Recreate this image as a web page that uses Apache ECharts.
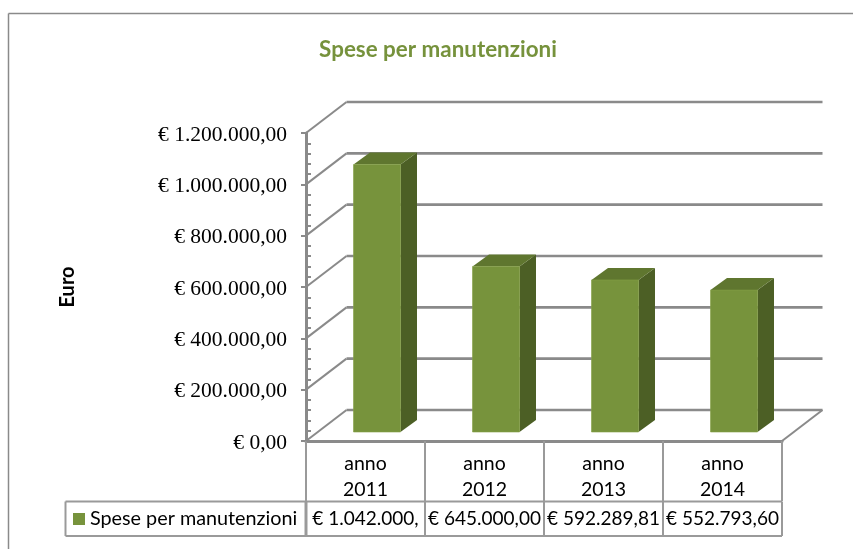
<!DOCTYPE html>
<html><head><meta charset="utf-8">
<style>html,body{margin:0;padding:0;background:#fff}#c{width:853px;height:549px}</style>
<script src="https://cdn.jsdelivr.net/npm/echarts@6/dist/echarts.min.js"></script>
</head><body><div id="c"></div>
<script>
const titleText = 'Spese per manutenzioni';
const yName = 'Euro';
const seriesName = 'Spese per manutenzioni';
const categories = ['anno\n2011', 'anno\n2012', 'anno\n2013', 'anno\n2014'];
const values = [1042000, 645000, 592289.81, 552793.60];
const tableLabels = ['€ 1.042.000,', '€ 645.000,00', '€ 592.289,81', '€ 552.793,60'];
const yTicks = [0, 200000, 400000, 600000, 800000, 1000000, 1200000];
const yMax = 1200000, yStep = 200000;

const GREY = '#8a8a8a', TABLE = '#9a9a9a', FRONT = '#77933C', SIDE = '#4C5F25', TOP = '#5F762F';
const BACK = [40.5, -31];          // floor depth offset of the back wall
const BAR = {x: 11.5, y: -9, w: 47, dx: 16.5, dy: -12};

function line(a, b, w, c) {
  return {type: 'line', shape: {x1: a[0], y1: a[1], x2: b[0], y2: b[1]}, style: {stroke: c, lineWidth: w}};
}
function poly(points, fill) {
  return {type: 'polygon', shape: {points}, style: {fill, stroke: null}};
}
function fmtY(v) {
  const s = String(v).replace(/\B(?=(\d{3})+$)/g, '.');
  return '€ ' + s + ',00';
}

function renderWalls(params, api) {
  const v = api.value(0);
  const p = api.coord([0, v]);
  const halfCat = api.size([1, 0])[0] / 2;
  const x0 = p[0] - halfCat;
  const x1 = x0 + halfCat * 2 * categories.length;
  const y = p[1];
  const back0 = [x0 + BACK[0], y + BACK[1]];
  const back1 = [x1 + BACK[0], y + BACK[1]];
  const children = [line([x0, y], back0, 2, GREY), line(back0, back1, 2.6, GREY)];
  if (v === 0) children.push(line(back1, [x1, y], 2, GREY));
  return {type: 'group', children};
}

function renderBar(params, api) {
  const base = api.coord([api.value(0), 0]);
  const top = api.coord([api.value(0), api.value(1)]);
  const xl = base[0] - BAR.w / 2 + BAR.x, xr = xl + BAR.w;
  const yb = base[1] + BAR.y, yt = top[1] + BAR.y;
  const d = [BAR.dx, BAR.dy];
  return {type: 'group', children: [
    poly([[xr, yt], [xr + d[0], yt + d[1]], [xr + d[0], yb + d[1]], [xr, yb]], SIDE),
    poly([[xl, yt], [xl + d[0], yt + d[1]], [xr + d[0], yt + d[1]], [xr, yt]], TOP),
    {type: 'rect', shape: {x: xl, y: yt, width: BAR.w, height: yb - yt}, style: {fill: FRONT, stroke: '#84a044', lineWidth: 0.6}}
  ]};
}

function renderTable(params, api) {
  const i = api.value(0);
  const c = api.coord([i, 0]);
  const w = api.size([1, 0])[0];
  const xl = c[0] - w / 2, xr = c[0] + w / 2;
  const yA = c[1] + 60.5, yB = c[1] + 95;
  const children = [
    line([xr, yA], [xr, yB], 2, TABLE),
    line([xl, yA], [xr, yA], 2, TABLE),
    line([xl, yB], [xr, yB], 2, TABLE),
    {type: 'text', x: c[0], y: (yA + yB) / 2, style: {text: tableLabels[i], font: '19px Lato', fill: '#000', textAlign: 'center', textVerticalAlign: 'middle'}}
  ];
  if (i === 0) {
    const lx = 65.5;
    children.push(
      line([xl, yA], [xl, yB], 3, TABLE),
      line([lx, yA], [xl, yA], 2, TABLE),
      line([lx, yB], [xl, yB], 2, TABLE),
      line([lx, yA], [lx, yB], 2, TABLE),
      {type: 'rect', shape: {x: 73, y: c[1] + 72, width: 12, height: 12}, style: {fill: FRONT}},
      {type: 'text', x: 90, y: (yA + yB) / 2, style: {text: seriesName, font: '19.8px Lato', fill: '#000', textAlign: 'left', textVerticalAlign: 'middle'}}
    );
  }
  return {type: 'group', children};
}

const chart = echarts.init(document.getElementById('c'), null, {renderer: 'canvas'});
chart.setOption({
  animation: false,
  backgroundColor: '#fff',
  title: {
    text: titleText, left: 433, top: 34, textAlign: 'center',
    textStyle: {color: '#76923C', fontFamily: 'Lato', fontWeight: 'bold', fontSize: 22.4}
  },
  grid: {left: 306, right: 71, top: 133, bottom: 108, containLabel: false, outerBoundsMode: 'none'},
  xAxis: {
    type: 'category', data: categories,
    axisLine: {lineStyle: {color: GREY, width: 3}},
    axisTick: {show: true, length: 60, lineStyle: {color: TABLE, width: 2}},
    axisLabel: {color: '#000', fontFamily: 'Lato', fontSize: 19.5, lineHeight: 26, margin: 10, interval: 0},
    splitLine: {show: false}
  },
  yAxis: [{
    type: 'value', min: 0, max: yMax, interval: yStep,
    name: yName, nameLocation: 'middle', nameGap: 228, nameRotate: 90,
    nameTextStyle: {color: '#000', fontFamily: 'Lato', fontWeight: 'bold', fontSize: 20},
    axisLine: {show: true, lineStyle: {color: GREY, width: 3}},
    axisTick: {show: true, length: 5, lineStyle: {color: GREY, width: 2}},
    axisLabel: {color: '#000', fontFamily: 'Liberation Serif', fontSize: 21.5, margin: 19, verticalAlign: 'top', lineHeight: 4, formatter: fmtY},
    splitLine: {show: false}
  }, {
    type: 'value', min: 0, max: yMax, interval: yStep, position: 'left',
    axisLine: {show: false},
    axisTick: {show: false, inside: true},
    minorTick: {show: true, splitNumber: 5, length: 5, lineStyle: {color: GREY, width: 2}},
    axisLabel: {show: false}, splitLine: {show: false}
  }],
  series: [
    {type: 'custom', name: 'walls', renderItem: renderWalls, data: yTicks.map(v => [v]), encode: {y: 0}, z: 1, silent: true},
    {type: 'custom', name: seriesName, renderItem: renderBar, data: values.map((v, i) => [i, v]), encode: {x: 0, y: 1}, z: 2, silent: true},
    {type: 'custom', name: 'table', renderItem: renderTable, data: values.map((v, i) => [i]), encode: {x: 0}, z: 3, silent: true}
  ],
  graphic: [
    {type: 'line', shape: {x1: 8.5, y1: 13.5, x2: 853, y2: 13.5}, style: {stroke: GREY, lineWidth: 1.5}},
    {type: 'line', shape: {x1: 8.5, y1: 13.5, x2: 8.5, y2: 549}, style: {stroke: GREY, lineWidth: 1.5}}
  ]
});
</script></body></html>
